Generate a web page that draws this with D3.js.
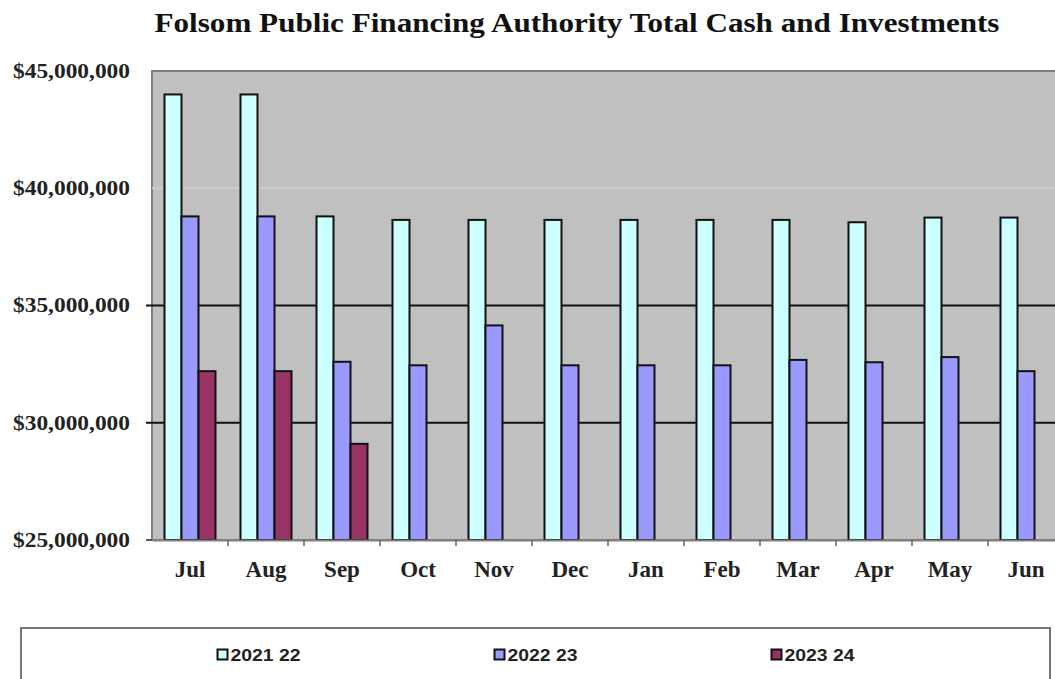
<!DOCTYPE html>
<html>
<head>
<meta charset="utf-8">
<script src="https://cdn.jsdelivr.net/npm/d3@7"></script>
<style>
  html, body { margin: 0; padding: 0; background: #fff; }
  svg { display: block; }
</style>
</head>
<body>
<svg id="chart" width="1055" height="679"></svg>
<script>
// ---- data ----
const months = ["Jul","Aug","Sep","Oct","Nov","Dec","Jan","Feb","Mar","Apr","May","Jun"];
const seriesNames = ["2021 22","2022 23","2023 24"];
const fy2122 = [44000000, 44000000, 38800000, 38650000, 38650000, 38650000, 38650000, 38650000, 38650000, 38550000, 38750000, 38750000];
const fy2223 = [38800000, 38800000, 32600000, 32450000, 34150000, 32450000, 32450000, 32450000, 32680000, 32580000, 32800000, 32200000];
const fy2324 = [32200000, 32200000, 29100000, null, null, null, null, null, null, null, null, null];
const yTicks = [25000000, 30000000, 35000000, 40000000, 45000000];
const titleText = "Folsom Public Financing Authority Total Cash and Investments";

const seriesValues = [fy2122, fy2223, fy2324];
const colors = ["#CCFFFF", "#9999FF", "#993366"];

// ---- layout ----
const svg = d3.select("#chart");
const plot = { left: 152, top: 71, right: 1064, bottom: 540 };

const x = d3.scaleBand().domain(months).range([plot.left, plot.right]).padding(0);
const xInner = d3.scaleBand().domain(seriesNames).range([0, x.bandwidth()]).paddingInner(0).paddingOuter(0.735);
const y = d3.scaleLinear().domain([25000000, 45000000]).range([plot.bottom, plot.top]);

// title
svg.append("text")
  .attr("x", 577).attr("y", 32)
  .attr("text-anchor", "middle")
  .attr("font-family", "'Liberation Serif', 'Times New Roman', serif")
  .attr("font-weight", "bold")
  .attr("font-size", 28)
  .attr("textLength", 845)
  .attr("lengthAdjust", "spacingAndGlyphs")
  .attr("fill", "#111")
  .text(titleText);

// plot background
svg.append("rect")
  .attr("x", plot.left).attr("y", plot.top)
  .attr("width", plot.right - plot.left).attr("height", plot.bottom - plot.top)
  .attr("fill", "#C0C0C0")
  .attr("stroke", "#808080").attr("stroke-width", 2);

// gridlines
const gridColor = v => (v === 40000000 ? "#cbcbcb" : "#111");
svg.append("g").selectAll("line")
  .data(yTicks.filter(v => v > 25000000 && v < 45000000))
  .join("line")
  .attr("x1", d => d === 40000000 ? plot.left : plot.left - 6).attr("x2", plot.right)
  .attr("y1", d => y(d)).attr("y2", d => y(d))
  .attr("stroke", d => gridColor(d)).attr("stroke-width", 2);

// bars
const flat = [];
months.forEach((m, i) => {
  seriesNames.forEach((s, j) => {
    const v = seriesValues[j][i];
    if (v != null) flat.push({ month: m, series: s, value: v, color: colors[j] });
  });
});
svg.append("g").selectAll("rect")
  .data(flat)
  .join("rect")
  .attr("x", d => x(d.month) + xInner(d.series))
  .attr("y", d => y(d.value))
  .attr("width", xInner.bandwidth())
  .attr("height", d => y(25000000) - y(d.value))
  .attr("fill", d => d.color)
  .attr("stroke", "#111").attr("stroke-width", 2);

// y axis
const yAxis = d3.axisLeft(y).tickValues(yTicks).tickSize(0).tickPadding(0)
  .tickFormat(d => "$" + d3.format(",")(d));
const yg = svg.append("g").attr("transform", `translate(130,0)`).call(yAxis);
yg.select(".domain").remove();
yg.selectAll("text")
  .attr("font-family", "'Liberation Serif', 'Times New Roman', serif")
  .attr("font-weight", "bold")
  .attr("font-size", 20)
  .attr("fill", "#222")
  .attr("textLength", 117)
  .attr("lengthAdjust", "spacingAndGlyphs");

// bottom tick at 25M
svg.append("line")
  .attr("x1", plot.left - 6).attr("x2", plot.left)
  .attr("y1", y(25000000)).attr("y2", y(25000000))
  .attr("stroke", "#555").attr("stroke-width", 2);

// x axis
const xAxis = d3.axisBottom(x).tickSize(0).tickPadding(0);
const xg = svg.append("g").attr("transform", `translate(0,${plot.bottom})`).call(xAxis);
xg.select(".domain").attr("stroke", "#808080").attr("stroke-width", 2);
xg.selectAll("text")
  .attr("y", 37)
  .attr("dy", 0)
  .attr("font-family", "'Liberation Serif', 'Times New Roman', serif")
  .attr("font-weight", "bold")
  .attr("font-size", 23)
  .attr("fill", "#222");
// boundary tick marks between categories
svg.append("g").selectAll("line")
  .data(months.slice(1))
  .join("line")
  .attr("x1", d => x(d)).attr("x2", d => x(d))
  .attr("y1", plot.bottom).attr("y2", plot.bottom + 6)
  .attr("stroke", "#666").attr("stroke-width", 1.5);

// legend
const legBox = { left: 21, top: 628, right: 1050, bottom: 690 };
svg.append("rect")
  .attr("x", legBox.left).attr("y", legBox.top)
  .attr("width", legBox.right - legBox.left).attr("height", legBox.bottom - legBox.top)
  .attr("fill", "#fff")
  .attr("stroke", "#777").attr("stroke-width", 2);

const legCenter = (legBox.left + legBox.right) / 2;
const legX = d3.scalePoint().domain(seriesNames).range([legCenter - 277, legCenter + 277]);
const legItems = svg.append("g").selectAll("g")
  .data(seriesNames)
  .join("g")
  .attr("transform", d => `translate(${legX(d) - 41},655)`);
legItems.append("rect")
  .attr("x", 0).attr("y", -5.5)
  .attr("width", 10).attr("height", 10)
  .attr("fill", (d, i) => colors[i])
  .attr("stroke", "#111").attr("stroke-width", 2);
legItems.append("text")
  .attr("x", 13).attr("y", 6)
  .attr("font-family", "'Liberation Sans', Arial, sans-serif")
  .attr("font-weight", "bold")
  .attr("font-size", 16)
  .attr("textLength", 70)
  .attr("lengthAdjust", "spacingAndGlyphs")
  .attr("fill", "#222")
  .text(d => d);
</script>
</body>
</html>
